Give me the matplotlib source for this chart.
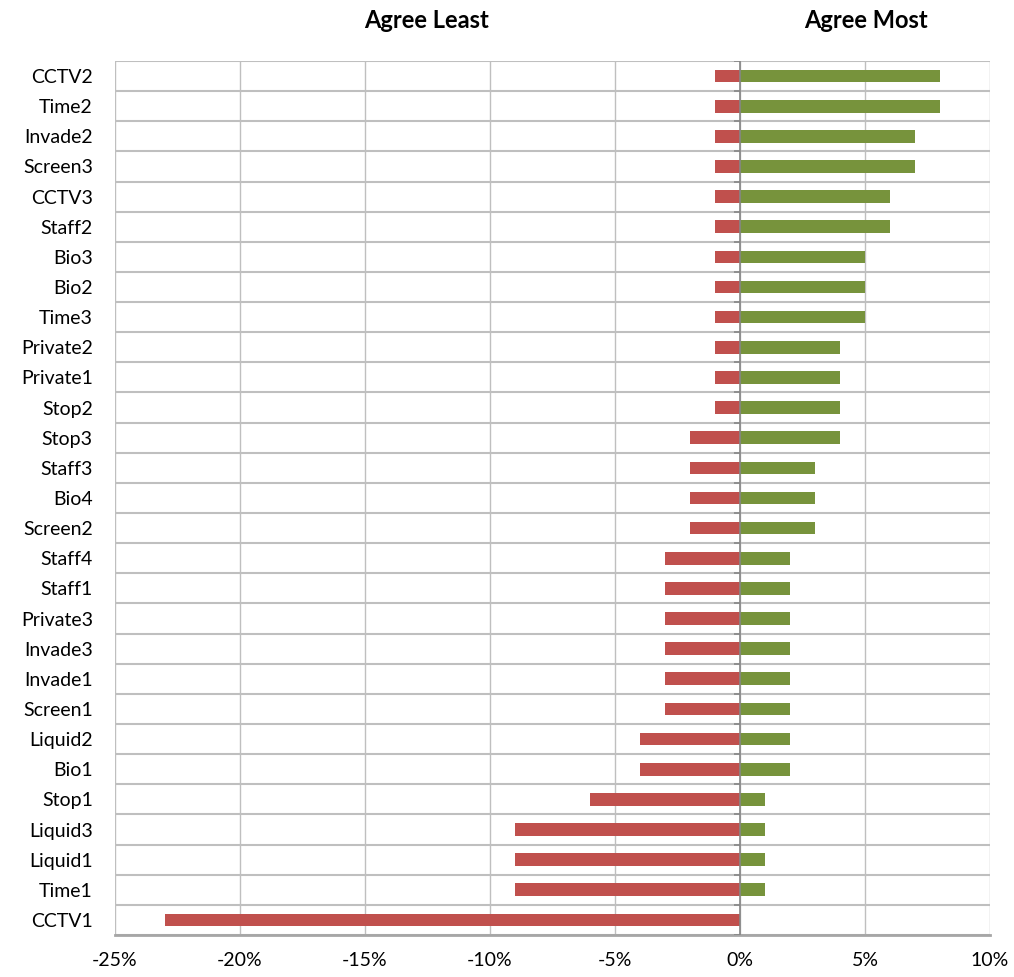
import numpy as np
import matplotlib.pyplot as plt
from matplotlib.ticker import FuncFormatter

plt.rcParams['font.family'] = ['Lato', 'DejaVu Sans']

# categories top to bottom, values in percent
labels = ['CCTV2', 'Time2', 'Invade2', 'Screen3', 'CCTV3', 'Staff2', 'Bio3', 'Bio2',
          'Time3', 'Private2', 'Private1', 'Stop2', 'Stop3', 'Staff3', 'Bio4', 'Screen2',
          'Staff4', 'Staff1', 'Private3', 'Invade3', 'Invade1', 'Screen1', 'Liquid2',
          'Bio1', 'Stop1', 'Liquid3', 'Liquid1', 'Time1', 'CCTV1']
least = [-1, -1, -1, -1, -1, -1, -1, -1, -1, -1, -1, -1, -2, -2, -2, -2,
         -3, -3, -3, -3, -3, -3, -4, -4, -6, -9, -9, -9, -23]
most = [8, 8, 7, 7, 6, 6, 5, 5, 5, 4, 4, 4, 4, 3, 3, 3,
        2, 2, 2, 2, 2, 2, 2, 2, 1, 1, 1, 1, 0]

red = '#C0504D'
green = '#77933C'
grid_col = '#BFBFBF'

fig = plt.figure(figsize=(10.14, 9.77), dpi=100)
ax = fig.add_axes([0.1134, 0.043, 0.8629, 0.8946])

y = np.arange(len(labels))
ax.barh(y, least, height=0.42, color=red, zorder=3)
ax.barh(y, most, height=0.42, color=green, zorder=3)

ax.set_xlim(-25, 10)
ax.set_ylim(len(labels) - 0.5, -0.5)
ax.set_xticks(np.arange(-25, 11, 5))
ax.xaxis.set_major_formatter(FuncFormatter(lambda v, p: f'{v:.0f}%'))
ax.set_yticks(y)
ax.set_yticklabels(labels)
ax.set_yticks(np.arange(-0.5, len(labels), 1), minor=True)

ax.grid(axis='x', which='major', color=grid_col, linewidth=1, zorder=0)
ax.grid(axis='y', which='minor', color=grid_col, linewidth=1.5, zorder=0)
ax.axvline(0, color='#868686', linewidth=1.2, zorder=4)

# small tick marks on the zero line at category boundaries
for b in np.arange(-0.5, len(labels), 1):
    ax.plot([-0.25, 0], [b, b], color='#868686', linewidth=1.2, zorder=4,
            solid_capstyle='butt')

ax.tick_params(axis='both', which='both', length=0, labelsize=14, colors='black')
ax.tick_params(axis='y', pad=16)
ax.tick_params(axis='x', pad=12)
for s in ['top', 'right', 'left']:
    ax.spines[s].set_visible(False)
ax.spines['bottom'].set_color('#A6A6A6')
ax.spines['bottom'].set_linewidth(2)

fig.text(427 / 1014, 1 - 20 / 977, 'Agree Least', ha='center', va='center',
         fontsize=17, fontweight='bold')
fig.text(866 / 1014, 1 - 20 / 977, 'Agree Most', ha='center', va='center',
         fontsize=17, fontweight='bold')

fig.savefig('out.png', dpi=100, facecolor='white')
